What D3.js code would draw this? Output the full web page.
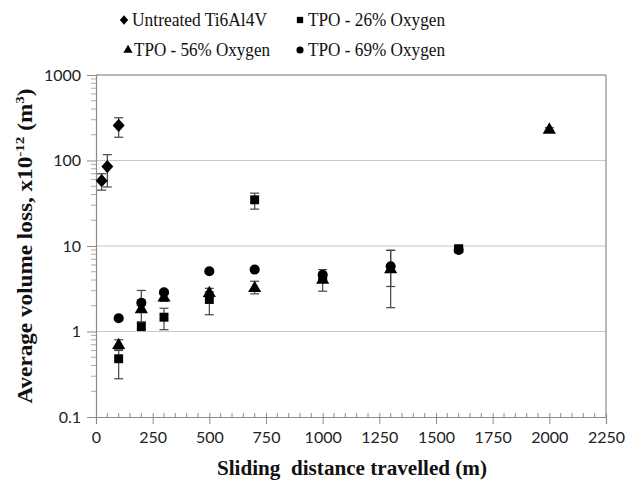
<!DOCTYPE html>
<html><head><meta charset="utf-8">
<script src="https://cdn.jsdelivr.net/npm/d3@7"></script>
<style>body{margin:0;background:#fff}svg{display:block}</style>
</head><body>
<svg id="c" width="641" height="480"></svg>
<script>
// ---- data ----
const seriesNames = ["Untreated Ti6Al4V", "TPO - 26% Oxygen", "TPO - 56% Oxygen", "TPO - 69% Oxygen"];
const untreatedX  = [25, 50, 100];
const untreatedY  = [58, 85, 257];
const untreatedLo = [45, 49, 187];
const untreatedHi = [70, 117, 316];

const tpo26X  = [100, 200, 300, 500, 700, 1000, 1600];
const tpo26Y  = [0.48, 1.14, 1.47, 2.37, 34.7, 4.3, 9.3];
const tpo26Lo = [0.28, 1.06, 1.05, 1.57, 27, 3.9, 8.6];
const tpo26Hi = [0.62, 1.24, 1.87, 2.9, 41.5, 4.8, 10];

const tpo56X  = [100, 200, 300, 500, 700, 1000, 1300, 2000];
const tpo56Y  = [0.69, 1.81, 2.48, 2.8, 3.2, 4.0, 5.3, 228];
const tpo56Lo = [0.6, 1.3, 2.25, 2.5, 2.76, 2.96, 3.36, 215];
const tpo56Hi = [0.8, 3.02, 2.75, 3.2, 3.87, 4.7, 8.9, 242];

const tpo69X  = [100, 200, 300, 500, 700, 1000, 1300, 1600];
const tpo69Y  = [1.43, 2.17, 2.88, 5.07, 5.3, 4.6, 5.8, 9.0];
const tpo69Lo = [1.35, 2.02, 2.72, 4.8, 5.05, 4.1, 1.9, 8.5];
const tpo69Hi = [1.52, 2.33, 3.05, 5.35, 5.55, 5.3, 8.9, 9.6];

const xTicks = [0, 250, 500, 750, 1000, 1250, 1500, 1750, 2000, 2250];
const yTicks = [0.1, 1, 10, 100, 1000];
const yTickLabels = ["0.1", "1", "10", "100", "1000"];

// ---- layout ----
const svg = d3.select("#c");
const L = 96, R = 606, T = 75, B = 417;
const x = d3.scaleLinear().domain([0, 2250]).range([L, R]);
const y = d3.scaleLog().domain([0.1, 1000]).range([B, T]);

const axisCol = "#8c8c8c", gridCol = "#c8c8c8";
const serif = "'Liberation Serif', 'Times New Roman', serif";
const sans = "Lato, 'Open Sans', sans-serif";

// wide diamond symbol
const wideDiamond = {
  draw(ctx, size) {
    const h = Math.sqrt(size) * 0.72, w = h * 0.9;
    ctx.moveTo(0, -h); ctx.lineTo(w, 0); ctx.lineTo(0, h); ctx.lineTo(-w, 0); ctx.closePath();
  }
};

// gridlines
svg.append("g").selectAll("line").data(yTicks.slice(1, 4)).join("line")
  .attr("x1", L).attr("x2", R).attr("y1", d => y(d)).attr("y2", d => y(d))
  .attr("stroke", gridCol).attr("stroke-width", 1.2);
svg.append("line").attr("x1", L).attr("x2", R).attr("y1", T).attr("y2", T)
  .attr("stroke", "#707070").attr("stroke-width", 1.2);
svg.append("line").attr("x1", R).attr("x2", R).attr("y1", T).attr("y2", B)
  .attr("stroke", axisCol).attr("stroke-width", 1.2);

// y axis
const yAx = d3.axisLeft(y).tickValues(yTicks).tickFormat((d, i) => yTickLabels[i]).tickSize(9).tickPadding(6);
const yg = svg.append("g").attr("transform", `translate(${L},0)`).call(yAx);
yg.select(".domain").attr("stroke", axisCol).attr("stroke-width", 1.2);
yg.selectAll(".tick line").attr("stroke", axisCol);
yg.selectAll(".tick text").attr("font-family", sans).attr("font-size", 16).attr("fill", "#222");
const yMinor = [];
[0.1, 1, 10, 100].forEach(dec => { for (let k = 2; k <= 9; k++) yMinor.push(dec * k); });
svg.append("g").selectAll("line").data(yMinor).join("line")
  .attr("x1", L - 5).attr("x2", L).attr("y1", d => y(d)).attr("y2", d => y(d))
  .attr("stroke", "#aaa").attr("stroke-width", 1);

// x axis
const xAx = d3.axisBottom(x).tickValues(xTicks).tickFormat(d3.format("d")).tickSize(7).tickPadding(8);
const xg = svg.append("g").attr("transform", `translate(0,${B})`).call(xAx);
xg.select(".domain").attr("stroke", axisCol).attr("stroke-width", 1.2);
xg.selectAll(".tick line").attr("stroke", axisCol).attr("y1", -4);
xg.selectAll(".tick text").attr("font-family", sans).attr("font-size", 16).attr("fill", "#222");
const xMinor = d3.range(50, 2250, 50).filter(v => v % 250 !== 0);
svg.append("g").selectAll("line").data(xMinor).join("line")
  .attr("x1", d => x(d)).attr("x2", d => x(d)).attr("y1", B - 4).attr("y2", B)
  .attr("stroke", axisCol).attr("stroke-width", 1);

// ---- series ----
const series = [
  {xs: untreatedX, ys: untreatedY, lo: untreatedLo, hi: untreatedHi, sym: wideDiamond, size: 85},
  {xs: tpo26X, ys: tpo26Y, lo: tpo26Lo, hi: tpo26Hi, sym: d3.symbolSquare, size: 80},
  {xs: tpo56X, ys: tpo56Y, lo: tpo56Lo, hi: tpo56Hi, sym: d3.symbolTriangle, size: 75},
  {xs: tpo69X, ys: tpo69Y, lo: tpo69Lo, hi: tpo69Hi, sym: d3.symbolCircle, size: 80}
];
const errG = svg.append("g");
const markG = svg.append("g");
series.forEach(s => {
  const pts = s.xs.map((v, i) => ({x: v, y: s.ys[i], lo: s.lo[i], hi: s.hi[i]}));
  const g = errG.append("g").attr("stroke", "#444").attr("stroke-width", 1.2);
  pts.forEach(p => {
    g.append("line").attr("x1", x(p.x)).attr("x2", x(p.x)).attr("y1", y(p.lo)).attr("y2", y(p.hi));
    g.append("line").attr("x1", x(p.x) - 4.5).attr("x2", x(p.x) + 4.5).attr("y1", y(p.lo)).attr("y2", y(p.lo));
    g.append("line").attr("x1", x(p.x) - 4.5).attr("x2", x(p.x) + 4.5).attr("y1", y(p.hi)).attr("y2", y(p.hi));
  });
  markG.append("g").selectAll("path").data(pts).join("path")
    .attr("d", d3.symbol().type(s.sym).size(s.size))
    .attr("transform", p => `translate(${x(p.x)},${y(p.y)})`)
    .attr("fill", "#000");
});

// ---- legend ----
const legPos = [[124, 20, 132, 135], [300, 20, 308, 137], [128, 50, 134, 136], [300, 50, 308, 137]];
const leg = svg.append("g");
series.forEach((s, i) => {
  const [mx, my, tx, tw] = legPos[i];
  leg.append("path").attr("d", d3.symbol().type(s.sym).size(s.size * 0.5)())
    .attr("transform", `translate(${mx},${my})`).attr("fill", "#000");
  leg.append("text").attr("x", tx).attr("y", my + 6).text(seriesNames[i])
    .attr("textLength", tw).attr("lengthAdjust", "spacingAndGlyphs")
    .attr("font-family", serif).attr("font-size", 19).attr("fill", "#111");
});

// ---- axis titles ----
const yt = svg.append("text").attr("transform", "translate(32,246) rotate(-90)")
  .attr("text-anchor", "middle").attr("font-family", serif)
  .attr("font-weight", "bold").attr("font-size", 20).attr("fill", "#111")
  .attr("textLength", 315).attr("lengthAdjust", "spacingAndGlyphs");
yt.append("tspan").text("Average volume loss, x10");
yt.append("tspan").text("-12").attr("font-size", 13).attr("dy", -8);
yt.append("tspan").text(" (m").attr("font-size", 20).attr("dy", 8);
yt.append("tspan").text("3").attr("font-size", 13).attr("dy", -8);
yt.append("tspan").text(")").attr("font-size", 20).attr("dy", 8);

svg.append("text").attr("x", 352).attr("y", 475).attr("text-anchor", "middle")
  .attr("font-family", serif)
  .attr("font-weight", "bold").attr("font-size", 20).attr("fill", "#111")
  .attr("textLength", 270).attr("lengthAdjust", "spacingAndGlyphs")
  .style("white-space", "pre")
  .text("Sliding  distance travelled (m)");
</script>
</body></html>
